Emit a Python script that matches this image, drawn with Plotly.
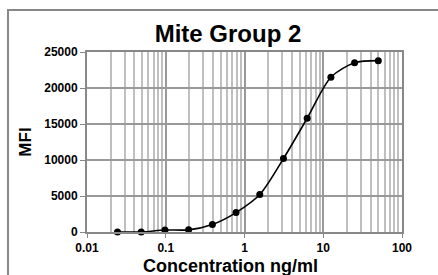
import plotly.graph_objects as go

concentration = [0.0244, 0.0488, 0.0977, 0.195, 0.391, 0.781, 1.5625, 3.125, 6.25, 12.5, 25, 50]
mfi = [0, 0, 280, 300, 1050, 2700, 5200, 10200, 15800, 21500, 23500, 23800]
x_ticks = [0.01, 0.1, 1, 10, 100]
x_tick_labels = ["0.01", "0.1", "1", "10", "100"]
y_ticks = [0, 5000, 10000, 15000, 20000, 25000]

minor_vals = [m * d for d in [0.01, 0.1, 1, 10] for m in range(2, 10)]

fig = go.Figure()
fig.add_trace(go.Scatter(
    x=concentration, y=mfi, mode="lines+markers",
    line=dict(color="black", width=1.6, shape="spline", smoothing=0.8),
    marker=dict(color="black", size=7),
    showlegend=False, cliponaxis=False,
))

fig.update_layout(
    width=438, height=275,
    margin=dict(l=87, r=36, t=52, b=43),
    paper_bgcolor="white", plot_bgcolor="white",
    title=dict(text="<b>Mite Group 2</b>", x=228/438, xanchor="center",
               y=1 - 34/275, yanchor="middle",
               font=dict(family="Liberation Sans, Arial", size=24, color="black")),
    font=dict(family="Liberation Sans, Arial", color="black"),
    xaxis=dict(
        type="log", range=[-2, 2], automargin=False,
        tickvals=x_ticks, ticktext=[f"<b>{t}</b>" for t in x_tick_labels],
        tickfont=dict(size=12), ticks="outside", ticklen=4, tickcolor="#888",
        showgrid=True, gridcolor="#999999", gridwidth=2,
        minor=dict(tickvals=minor_vals, showgrid=True, gridcolor="#bfbfbf", gridwidth=1.5, ticks=""),
        showline=True, linecolor="#888888", linewidth=2, mirror=True,
        zeroline=False,
    ),
    yaxis=dict(
        range=[0, 25000], automargin=False,
        tickvals=y_ticks, ticktext=[f"<b>{t}</b>" for t in y_ticks],
        tickfont=dict(size=12), ticks="outside", ticklen=5, tickcolor="#888",
        showgrid=True, gridcolor="#999999", gridwidth=2,
        showline=True, linecolor="#888888", linewidth=2, mirror=True,
        title=dict(text="<b>MFI</b>", font=dict(size=17), standoff=8),
        zeroline=False,
    ),
    annotations=[dict(text="<b>Concentration ng/ml</b>", xref="paper", yref="paper",
                      x=(230 - 87) / 315, y=(232 - 266) / 180, xanchor="center", yanchor="middle",
                      showarrow=False, font=dict(size=18, color="black"))],
    shapes=[dict(type="rect", xref="paper", yref="paper",
                 x0=(8 - 87) / 315, x1=(445 - 87) / 315,
                 y0=(232 - 285) / 180, y1=(232 - 10) / 180,
                 line=dict(color="#888888", width=2), fillcolor="rgba(0,0,0,0)", layer="below")],
)

fig.write_html("out.html", config={"displayModeBar": False},
               post_script="document.body.style.margin='0px';document.body.style.overflow='hidden';")
